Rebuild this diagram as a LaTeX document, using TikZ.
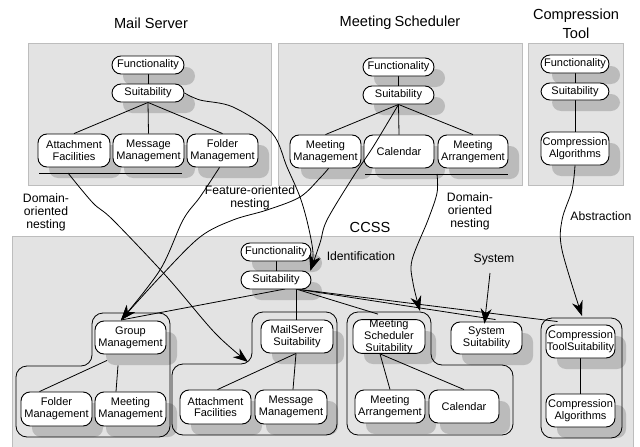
\documentclass[tikz,border=0pt]{standalone}
\usepackage{fontspec}
\setmainfont{Liberation Sans}
\usetikzlibrary{arrows.meta,calc}
\pgfdeclarelayer{panels}
\pgfdeclarelayer{shad}
\pgfdeclarelayer{wires}
\pgfsetlayers{panels,shad,wires,main}
\definecolor{panelfill}{HTML}{E3E3E3}
\definecolor{panelline}{HTML}{BDBDBD}
\definecolor{shadowc}{HTML}{BBBBBB}
\tikzset{
  x=1pt,y=-1pt,
  panel/.style={fill=panelfill,draw=panelline,line width=0.8pt},
  boxn/.style={draw=black,fill=white,line width=0.9pt,rounded corners=9pt,inner sep=0pt,align=center,
    font=\fontsize{11}{11.8}\selectfont},
  shadowbox/.style={fill=shadowc,rounded corners=9pt},
  wire/.style={draw=black,line width=0.8pt},
  bar/.style={draw=black,line width=0.9pt},
  zone/.style={draw=black,line width=0.8pt,rounded corners=11pt},
  link/.style={draw=black,line width=0.8pt,-{Stealth[length=15pt,width=11pt]}},
  titlet/.style={font=\fontsize{14.6}{19}\selectfont,align=center,inner sep=0pt},
  labelt/.style={font=\fontsize{12.2}{13}\selectfont,align=center,inner sep=0pt},
}
\newcommand{\bx}[6]{%
  \pgfmathsetmacro{\bxw}{#4-#2}\pgfmathsetmacro{\bxh}{#5-#3}%
  \pgfmathsetmacro{\bxcx}{(#2+#4)/2}\pgfmathsetmacro{\bxcy}{(#3+#5)/2}%
  \begin{pgfonlayer}{shad}
    \fill[shadowbox] (#2+11,#3+11) rectangle (#4+11,#5+11);
  \end{pgfonlayer}
  \node[boxn,minimum width=\bxw pt,minimum height=\bxh pt] (#1) at (\bxcx,\bxcy) {#6};%
}
\begin{document}
\begin{tikzpicture}
\useasboundingbox (0,0) rectangle (640,447);
\begin{pgfonlayer}{panels}
  \fill[white] (0,0) rectangle (640,447);
  \path[panel] (28,43) rectangle (271,185);
  \path[panel] (278,43) rectangle (522,185);
  \path[panel] (528,43) rectangle (623,185);
  \path[panel] (12,236) rectangle (633,447.5);
\end{pgfonlayer}

% titles and labels
\node[titlet] (t1) at (151,23) {Mail Server};
\node[titlet] (t2) at (400,23) {Meeting\hspace{3pt}Scheduler};
\node[titlet] (t3) at (576,24) {Compression\\Tool};
\node[titlet] (t4) at (370,227) {CCSS};
\node[labelt] (l1) at (46,212) {Domain-\\oriented\\nesting};
\node[labelt] (l2) at (250,198) {Feature-oriented\\nesting};
\node[labelt] (l3) at (470,211) {Domain-\\oriented\\nesting};
\node[labelt] (l4) at (601,216) {Abstraction};
\node[labelt] (l5) at (361,256) {Identification};
\node[labelt] (l6) at (494,260) {System};

% Mail Server
\bx{mf}{112}{56}{184}{74}{Functionality}
\bx{ms}{112}{84}{184}{102}{Suitability}
\bx{ma}{38}{134}{110}{167}{Attachment\\Facilities}
\bx{mm}{113}{134}{184}{167}{Message\\Management}
\bx{mo}{187}{134}{258}{167}{Folder\\Management}
% Meeting Scheduler
\bx{sf}{363}{58}{434}{76}{Functionality}
\bx{ss}{363}{86}{434}{104}{Suitability}
\bx{sm}{290}{135}{361}{168}{Meeting\\Management}
\bx{sc}{364}{135}{434}{168}{Calendar}
\bx{sa}{438}{135}{508}{168}{Meeting\\Arrangement}
% Compression Tool
\bx{cf}{541}{55}{609}{73}{Functionality}
\bx{cs}{541}{83}{609}{100}{Suitability}
\bx{ca}{541}{132}{609}{165}{Compression\\Algorithms}
% CCSS
\bx{xf}{241}{243}{311}{261}{Functionality}
\bx{xs}{241}{271}{311}{289}{Suitability}
\bx{gm}{95}{321}{166}{354}{Group\\Management}
\bx{gf}{21}{392}{92}{426}{Folder\\Management}
\bx{gn}{95}{392}{166}{426}{Meeting\\Management}
\bx{ym}{261}{320}{333}{353}{MailServer\\Suitability}
\bx{ya}{180}{390}{251}{424}{Attachment\\Facilities}
\bx{yn}{255}{390}{327}{424}{Message\\Management}
\bx{zm}{353}{320}{425}{353}{Meeting\\Scheduler\\Suitability}
\bx{za}{355}{390}{425}{423}{Meeting\\Arrangement}
\bx{zc}{429}{390}{499}{423}{Calendar}
\bx{sy}{451}{322}{522}{354}{System\\Suitability}
\bx{ct}{546}{325}{615}{358}{Compression\\ToolSuitability}
\bx{ck}{546}{394}{615}{427}{Compression\\Algorithms}

% free ends
\coordinate (mbar1) at (39,173);
\coordinate (mbar2) at (182,173);
\coordinate (sbar1) at (365,174);
\coordinate (sbar2) at (508,174);
\coordinate (hub) at (285,289);
\coordinate (hubr) at (296,289);
\coordinate (zone1) at (121,320);
\coordinate (zone2) at (248,362);
\coordinate (zone3) at (420,311);
\coordinate (zone4) at (582,316);
\coordinate (sysstart) at (490,273);

\begin{pgfonlayer}{wires}
  % containers
  \draw[zone] (92,313) -- (170,313) -- (170,437) -- (16,437) -- (16,366) -- (92,366) -- cycle;
  \draw[zone] (252,312) -- (337,312) -- (337,435) -- (172,435) -- (172,364) -- (252,364) -- cycle;
  \draw[zone] (347,312) -- (431,312) -- (431,365) -- (513,365) -- (513,435) -- (347,435) -- cycle;
  \draw[zone] (541,318) -- (622,318) -- (622,438) -- (541,438) -- cycle;
  % tree lines
  \draw[wire] (mf) -- (ms);
  \draw[wire] (ms.south) -- (ma.north);
  \draw[wire] (ms.south) -- (mm.north);
  \draw[wire] (ms.south) -- (mo.north);
  \draw[wire] (sf) -- (ss);
  \draw[wire] (ss.south) -- (sm.north);
  \draw[wire] (ss.south) -- (sc.north);
  \draw[wire] (ss.south) -- (sa.north);
  \draw[wire] (cf) -- (cs);
  \draw[wire] (cs) -- (ca);
  \draw[wire] (xf) -- (xs);
  \draw[wire] (hub) -- (zone1);
  \draw[wire] (hubr) -- (ym.north -| hubr);
  \draw[wire] (hubr) -- ([xshift=-11pt,yshift=5pt]zm.north);
  \draw[wire] (hubr) -- ([xshift=9pt,yshift=2pt]sy.north);
  \draw[wire] (hubr) -- ([xshift=-23pt,yshift=3pt]ct.north);
  \draw[wire] ([xshift=-23.5pt,yshift=-6pt]gm.south) -- ([xshift=-17pt]gf.north);
  \draw[wire] ([xshift=-12.5pt,yshift=-11pt]gm.south) -- ([xshift=-14.5pt]gn.north);
  \draw[wire] ([xshift=-1pt]ym.south) -- ([xshift=2pt]ya.north);
  \draw[wire] ([xshift=-1pt]ym.south) -- ([xshift=2pt]yn.north);
  \draw[wire] ([xshift=-9pt]zm.south) -- (za.north);
  \draw[wire] ([xshift=-9pt]zm.south) -- (zc.north);
  \draw[wire] (ct.south) -- (ck.north);
  \draw[bar] (mbar1) -- (mbar2);
  \draw[bar] (sbar1) -- (sbar2);
\end{pgfonlayer}

% long connectors
\draw[link] plot[smooth,tension=0.55] coordinates {(ms.east) (200,100) (233,107) (272,133) (287,167) (300,197) (308,225) (313,253) ([xshift=-1pt]xs.north east)};
\draw[link] plot[smooth,tension=0.55] coordinates {(ss.south) (373,147) (353,177) (327,220) (320,243) ([xshift=-1pt]xs.north east)};
\draw[link] plot[smooth,tension=0.55] coordinates {([xshift=3pt]sm.south) (320,178) (300,197) (267,210) (233,220) (200,237) (160,277) (zone1)};
\draw[link] plot[smooth,tension=0.55] coordinates {([xshift=-3pt]mo.south) (200,197) (183,220) (160,270) (zone1)};
\draw[link] plot[smooth,tension=0.55] coordinates {(68,173) (93,203) (113,220) (167,277) (215,333) (zone2)};
\draw[link] plot[smooth,tension=0.55] coordinates {(437,174) (437,193) (428,220) (412,260) (413,283) (zone3)};
\draw[link] plot[smooth,tension=0.55] coordinates {(sysstart) ([xshift=-2pt,yshift=-2pt]sy.north)};
\draw[link] plot[smooth,tension=0.55] coordinates {(ca.south) (572,190) (562,220) (562,250) (zone4)};
\end{tikzpicture}
\end{document}
